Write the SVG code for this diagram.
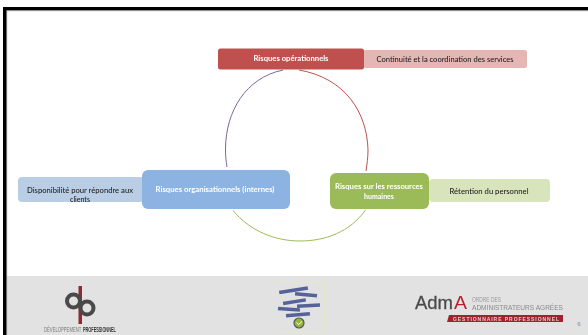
<svg xmlns="http://www.w3.org/2000/svg" width="588" height="335" viewBox="0 0 588 335">
<style>
.t{font-family:Lato,"Open Sans",sans-serif;font-size:7px;text-anchor:middle}
.w{fill:#ffffff;font-weight:700}
.k{fill:#222222;font-weight:500}
.arc{fill:none;stroke-width:1}
.ban{fill:#55639a}
</style>
<defs>
<filter id="soft" x="-5%" y="-5%" width="110%" height="110%"><feGaussianBlur stdDeviation="0.5"/></filter>
<filter id="soft2" x="-5%" y="-5%" width="110%" height="110%"><feGaussianBlur stdDeviation="0.3"/></filter>
</defs>
<rect width="588" height="335" fill="#ffffff"/>
<g id="frame">
<rect x="6" y="276" width="582" height="59" fill="#e2e2e2"/>
<rect x="6" y="10" width="582" height="1.2" fill="#b5b5b5"/>
<rect x="6" y="10" width="1.2" height="325" fill="#b5b5b5"/>
<rect x="3" y="7" width="585" height="3.2" fill="#000000"/>
<rect x="3" y="7" width="3.400" height="328" fill="#000000"/>
</g>
<g id="connectors">
<path class="arc" stroke="#8064a2" d="M283 70C245 78 226 112 225.500 148C225.400 155 226 161 227 167"/>
<path class="arc" stroke="#c0504d" d="M299 70C345 78 367 112 368 150C368 157 367 164 366 171"/>
<path class="arc" stroke="#9bbb59" d="M233 210.500C250 231 275 241 300 241C325 241 350 232 365.500 210"/>
</g>
<g id="node-continuite">
<rect x="363" y="50" width="164" height="18" rx="2.500" fill="#e6b6b5"/>
<text class="t k" x="445" y="62" textLength="137" lengthAdjust="spacingAndGlyphs" filter="url(#soft2)">Continuité et la coordination des services</text>
</g>
<g id="node-operationnels">
<rect x="218" y="48.500" width="146" height="21" rx="2.500" fill="#c0504d"/>
<text class="t w" x="291" y="60.500" textLength="75" lengthAdjust="spacingAndGlyphs" filter="url(#soft2)">Risques opérationnels</text>
</g>
<g id="node-disponibilite">
<rect x="18" y="177" width="126" height="25" rx="4" fill="#b9cde5"/>
<text class="t k" x="80" y="193" textLength="106" lengthAdjust="spacingAndGlyphs" filter="url(#soft2)">Disponibilité pour répondre aux</text>
<text class="t k" x="80" y="201.500" filter="url(#soft2)">clients</text>
</g>
<g id="node-organisationnels">
<rect x="142" y="170" width="148" height="39" rx="6" fill="#8db3e2"/>
<text class="t w" x="215" y="191.500" textLength="119" lengthAdjust="spacingAndGlyphs" filter="url(#soft2)">Risques organisationnels (internes)</text>
</g>
<g id="node-retention">
<rect x="429" y="179" width="121" height="23" rx="4" fill="#d8e4bc"/>
<text class="t k" x="489" y="193.500" textLength="79" lengthAdjust="spacingAndGlyphs" filter="url(#soft2)">Rétention du personnel</text>
</g>
<g id="node-ressources">
<rect x="330" y="173" width="99" height="36" rx="6" fill="#9bbb59"/>
<text class="t w" x="379" y="189" textLength="88" lengthAdjust="spacingAndGlyphs" filter="url(#soft2)">Risques sur les ressources</text>
<text class="t w" x="379" y="198.500" filter="url(#soft2)">humaines</text>
</g>
<g id="logo-dp" filter="url(#soft)">
<rect x="78.500" y="286" width="3.500" height="38" fill="#8e2a35"/>
<circle cx="73.500" cy="301" r="6.500" fill="none" stroke="#484848" stroke-width="4"/>
<circle cx="87" cy="308" r="6.500" fill="none" stroke="#484848" stroke-width="4"/>
<text transform="translate(44 332) scale(0.6 1)" font-family="Liberation Sans,sans-serif" font-size="7" fill="#777777">DÉVELOPPEMENT</text>
<text transform="translate(83 332) scale(0.55 1)" font-family="Liberation Sans,sans-serif" font-size="7" font-weight="700" fill="#333333">PROFESSIONNEL</text>
</g>
<g id="logo-centre" filter="url(#soft)">
<rect x="273.500" y="282" width="51" height="50" fill="none" stroke="#e8e8c4" stroke-width="0.800"/>
<rect x="279" y="288.500" width="29" height="3.500" class="ban" transform="rotate(-9 293 290)"/>
<rect x="295" y="293" width="22" height="3.500" class="ban" transform="rotate(5 306 295)"/>
<rect x="283" y="300" width="23" height="3.500" class="ban" transform="rotate(-9 294 302)"/>
<rect x="297" y="304" width="23" height="3.500" class="ban" transform="rotate(-3 308 306)"/>
<rect x="278" y="307.500" width="22" height="3.500" class="ban" transform="rotate(4 289 309)"/>
<rect x="286" y="313" width="24" height="3.500" class="ban" transform="rotate(-5 298 315)"/>
<circle cx="299" cy="323" r="5" fill="#9ab23e" stroke="#4d5a55" stroke-width="1.200"/>
<path d="M296.500 322.500l2 2 3.500-3" fill="none" stroke="#ffffff" stroke-width="1"/>
</g>
<g id="logo-adma" filter="url(#soft2)">
<text x="415" y="309" font-family="Liberation Sans,sans-serif" font-size="18.500" fill="#4a4a4a" stroke="#4a4a4a" stroke-width="0.300" textLength="38" lengthAdjust="spacingAndGlyphs">Adm</text>
<text x="454" y="309" font-family="Liberation Sans,sans-serif" font-size="18.500" fill="#b5232f" textLength="13" lengthAdjust="spacingAndGlyphs">A</text>
<text x="472" y="301.500" font-family="Liberation Sans,sans-serif" font-size="6.500" fill="#999999" textLength="29" lengthAdjust="spacingAndGlyphs">ORDRE DES</text>
<text x="472" y="309.500" font-family="Liberation Sans,sans-serif" font-size="6.500" fill="#8a8a8a" textLength="91" lengthAdjust="spacingAndGlyphs">ADMINISTRATEURS AGRÉES</text>
<path d="M449 315H563V322H447Z" fill="#a0222f"/>
<text x="453" y="321" font-family="Liberation Sans,sans-serif" font-size="5" font-weight="700" fill="#e8c8c8" textLength="106">GESTIONNAIRE PROFESSIONNEL</text>
</g>
<text id="page" x="579" y="326" font-family="Liberation Sans,sans-serif" font-size="6" fill="#8a8a8a" text-anchor="middle">6</text>
</svg>
